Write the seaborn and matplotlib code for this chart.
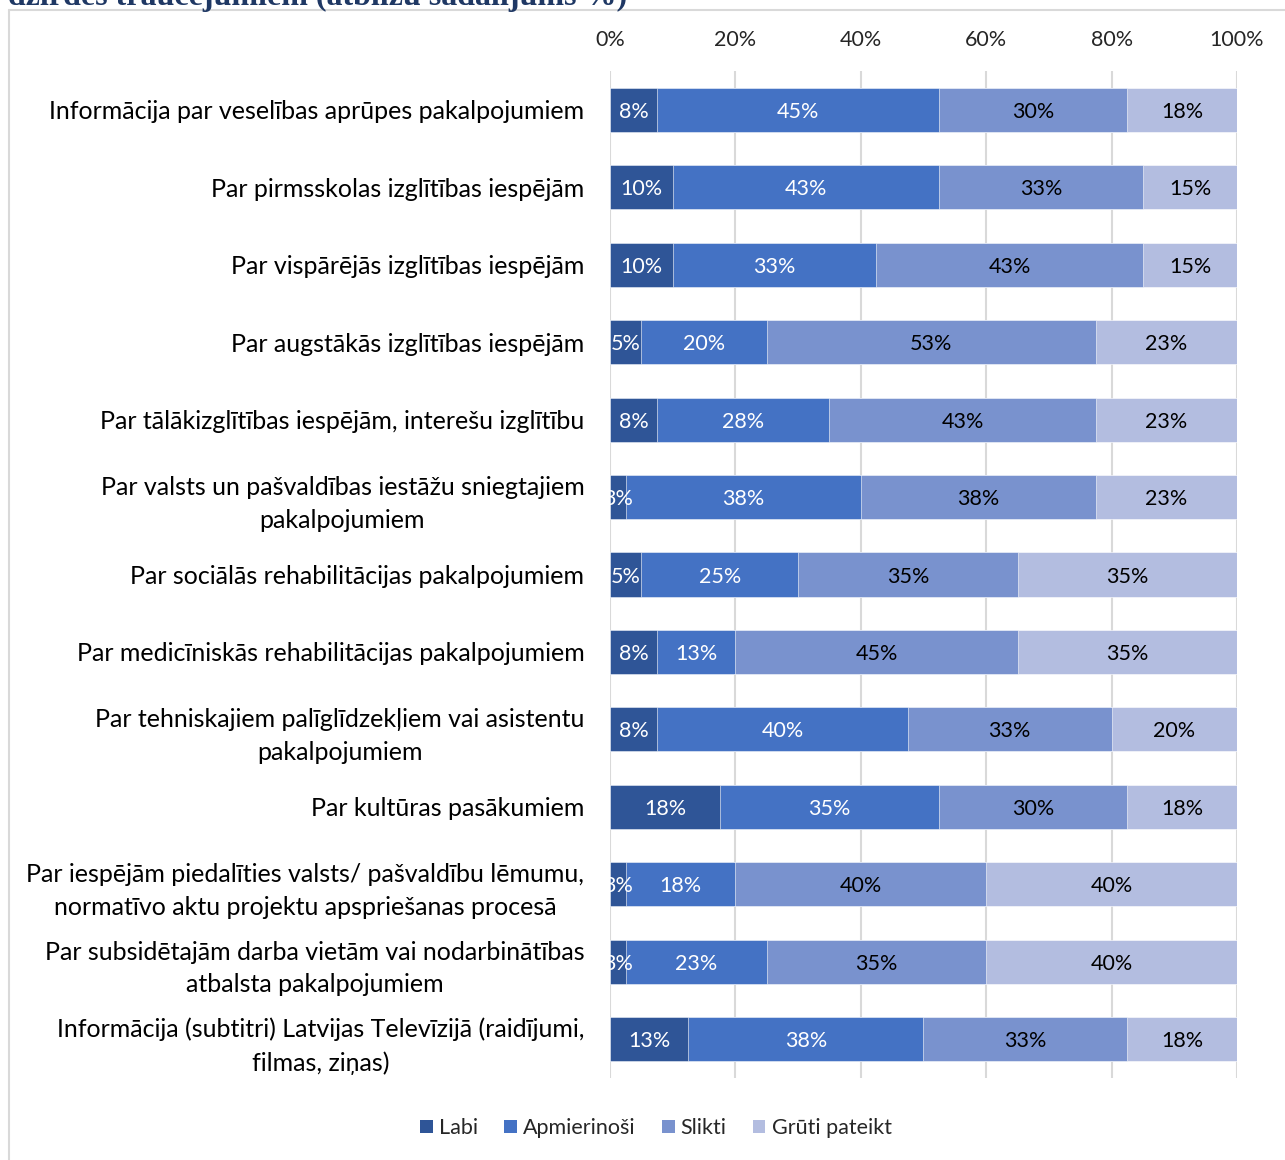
import numpy as np
import pandas as pd
import matplotlib
matplotlib.use("Agg")
import matplotlib.pyplot as plt
from matplotlib.lines import Line2D
from matplotlib.patches import Patch
import seaborn as sns

categories = [
    "Informācija par veselības aprūpes pakalpojumiem",
    "Par pirmsskolas izglītības iespējām",
    "Par vispārējās izglītības iespējām",
    "Par augstākās izglītības iespējām",
    "Par tālākizglītības iespējām, interešu izglītību",
    "Par valsts un pašvaldības iestāžu sniegtajiem\npakalpojumiem",
    "Par sociālās rehabilitācijas pakalpojumiem",
    "Par medicīniskās rehabilitācijas pakalpojumiem",
    "Par tehniskajiem palīglīdzekļiem vai asistentu\npakalpojumiem",
    "Par kultūras pasākumiem",
    "Par iespējām piedalīties valsts/ pašvaldību lēmumu,\nnormatīvo aktu projektu apspriešanas procesā",
    "Par subsidētajām darba vietām vai nodarbinātības\natbalsta pakalpojumiem",
    "Informācija (subtitri) Latvijas Televīzijā (raidījumi,\nfilmas, ziņas)",
]
labi = [7.5, 10, 10, 5, 7.5, 2.5, 5, 7.5, 7.5, 17.5, 2.5, 2.5, 12.5]
apmierinosi = [45, 42.5, 32.5, 20, 27.5, 37.5, 25, 12.5, 40, 35, 17.5, 22.5, 37.5]
slikti = [30, 32.5, 42.5, 52.5, 42.5, 37.5, 35, 45, 32.5, 30, 40, 35, 32.5]
gruti = [17.5, 15, 15, 22.5, 22.5, 22.5, 35, 35, 20, 17.5, 40, 40, 17.5]
series_names = ["Labi", "Apmierinoši", "Slikti", "Grūti pateikt"]
x_ticks = [0, 20, 40, 60, 80, 100]
title_text = "dzirdes traucējumiem (atbilžu sadalījums %)"

colors = ["#2F5597", "#4472C4", "#7992CE", "#B3BDE0"]
text_colors = ["white", "white", "black", "black"]

sns.set_theme(style="white")
plt.rcParams["font.family"] = ["Lato", "DejaVu Sans"]

fig = plt.figure(figsize=(12.85, 11.6), dpi=100)
ax = fig.add_axes([610 / 1285, 1 - 1078 / 1160, 627 / 1285, (1078 - 71) / 1160])

values = np.array([labi, apmierinosi, slikti, gruti], dtype=float)
cum = np.cumsum(values, axis=0)

# draw stacked bars by overlaying cumulative totals, widest first
for k in range(3, -1, -1):
    df = pd.DataFrame({"cat": categories, "val": cum[k]})
    sns.barplot(data=df, x="val", y="cat", orient="h", color=colors[k],
                saturation=1, width=0.57, ax=ax, edgecolor="white",
                linewidth=0.4, zorder=3)

def fmt(v):
    return f"{int(np.floor(v + 0.5))}%"

for k in range(4):
    starts = cum[k] - values[k]
    for i, v in enumerate(values[k]):
        ax.text(starts[i] + v / 2, i, fmt(v), ha="center", va="center_baseline",
                color=text_colors[k], fontsize=15.5, zorder=5, clip_on=True)

ax.set_xlim(0, 100)
ax.set_ylim(len(categories) - 0.5, -0.5)
ax.set_xticks(x_ticks)
ax.set_xticklabels([f"{t}%" for t in x_ticks], fontsize=15.5, color="#262626")
ax.xaxis.tick_top()
ax.tick_params(axis="x", length=0, pad=15)
ax.tick_params(axis="y", length=0, pad=18.5)
ax.set_xlabel("")
ax.set_ylabel("")
for lbl in ax.get_yticklabels():
    lbl.set_multialignment("center")
    lbl.set_fontsize(18)
    lbl.set_color("black")
    lbl.set_linespacing(1.5)
ax.grid(axis="x", color="#D9D9D9", linewidth=1.5, zorder=0)
ax.set_axisbelow(True)
for s in ax.spines.values():
    s.set_visible(False)

handles = [Patch(facecolor=c, edgecolor="none") for c in colors]
fig.legend(handles, series_names, loc="center", bbox_to_anchor=(656 / 1285, 1 - 1128 / 1160),
           ncol=4, frameon=False, fontsize=15.5, handlelength=0.6, handleheight=0.6,
           handletextpad=0.28, columnspacing=1.2)

# chart area border
fig.add_artist(Line2D([9 / 1285, 9 / 1285], [0, 1 - 10 / 1160], color="#D9D9D9", linewidth=1.5))
fig.add_artist(Line2D([9 / 1285, 1.0], [1 - 10 / 1160, 1 - 10 / 1160], color="#D9D9D9", linewidth=1.5))

fig.text(8 / 1285, 1 - 5 / 1160, title_text, ha="left", va="baseline",
         fontsize=23, fontweight="bold", family="Liberation Serif", color="#1F3864")

fig.savefig("out.png", dpi=100)
